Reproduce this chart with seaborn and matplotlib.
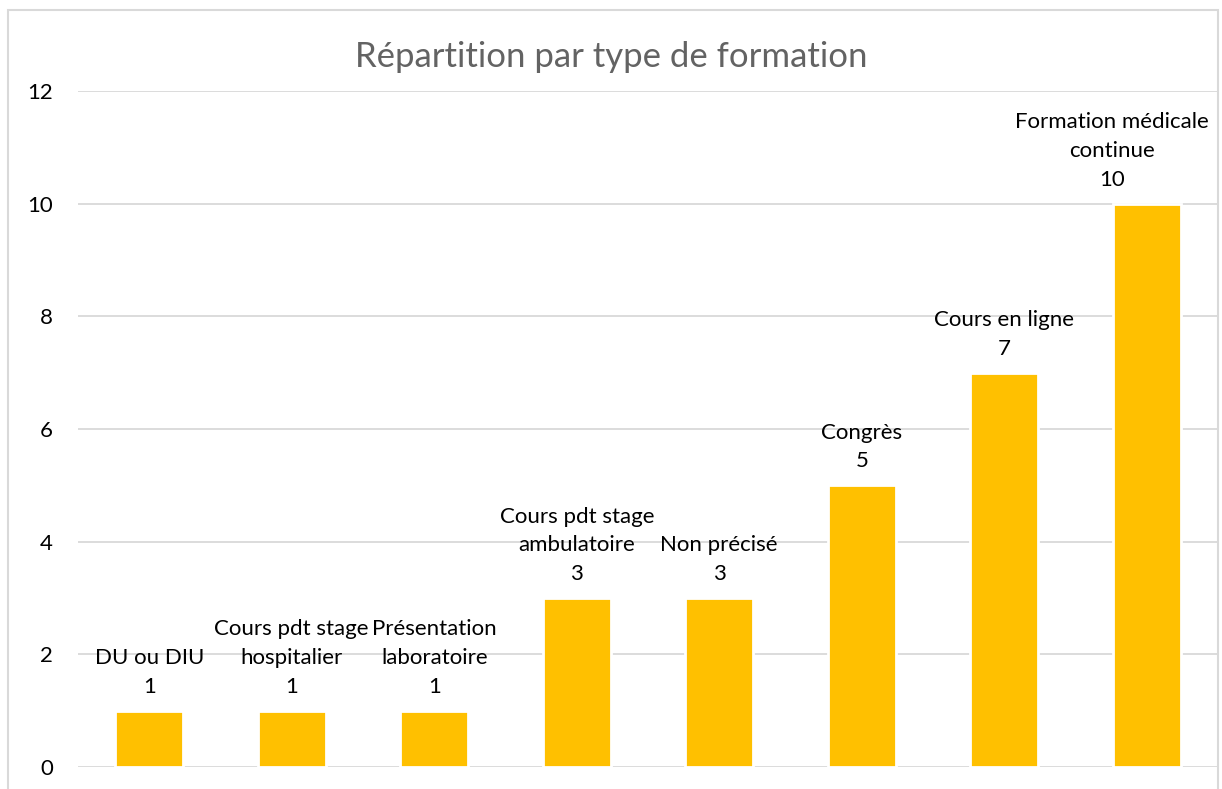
import matplotlib
matplotlib.use("Agg")
import matplotlib.pyplot as plt
import seaborn as sns
from matplotlib.patches import Rectangle

# data
categories = [
    "DU ou DIU",
    "Cours pdt stage\nhospitalier",
    "Présentation\nlaboratoire",
    "Cours pdt stage\nambulatoire",
    "Non précisé",
    "Congrès",
    "Cours en ligne",
    "Formation médicale\ncontinue",
]
counts = [1, 1, 1, 3, 3, 5, 7, 10]
y_ticks = [0, 2, 4, 6, 8, 10, 12]

sns.set_theme(style="white")
plt.rcParams['font.family'] = ['Lato', 'DejaVu Sans']

DPI = 100
fig = plt.figure(figsize=(12.22, 7.89), dpi=DPI)
ax = fig.add_axes([78 / 1222, 22 / 789, 1140 / 1222, 676 / 789])

# light frame around the chart area
fig.patches.append(Rectangle((8 / 1222, -0.05), 1210 / 1222, 0.05 + 779 / 789,
                             transform=fig.transFigure, fill=False,
                             edgecolor="#D9D9D9", linewidth=1.5))

sns.barplot(x=categories, y=counts, color="#FFC000", saturation=1,
            width=0.48, edgecolor="white", linewidth=2, ax=ax, zorder=3)

ax.set_ylim(0, 12)
ax.set_xlim(-0.5, len(categories) - 0.5)
ax.set_yticks(y_ticks)
ax.yaxis.grid(True, color="#D9D9D9", linewidth=1.3, zorder=0)
ax.set_axisbelow(True)
ax.tick_params(axis="y", length=0, pad=18, labelsize=16, labelcolor="black")
ax.set_xticks([])
ax.set_xlabel("")
ax.set_ylabel("")
for s in ax.spines.values():
    s.set_visible(False)

labels = []
for i, (c, v) in enumerate(zip(categories, counts)):
    t = ax.annotate(f"{c}\n{v}", (i, v), xytext=(0, 10), textcoords="offset points",
                    ha="center", va="bottom", fontsize=16, color="black",
                    linespacing=1.55)
    labels.append(t)

# keep data labels inside the plot area, like Excel does
fig.canvas.draw()
renderer = fig.canvas.get_renderer()
ax_right = ax.get_window_extent(renderer).x1 - 9
for t in labels:
    ext = t.get_window_extent(renderer)
    if ext.x1 > ax_right:
        dx = (ext.x1 - ax_right) * 72 / DPI
        t.xyann = (t.xyann[0] - dx, t.xyann[1])

fig.text(0.5, 1 - 57 / 789, "Répartition par type de formation",
         ha="center", va="center", fontsize=25, color="#636363")

fig.savefig("out.png", dpi=DPI)
